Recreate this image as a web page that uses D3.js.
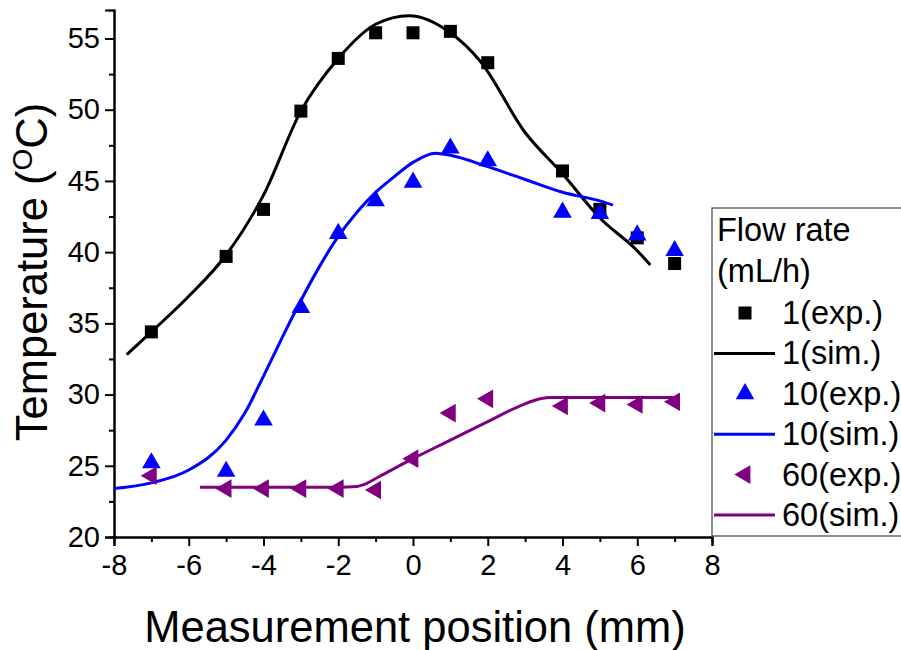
<!DOCTYPE html>
<html>
<head>
<meta charset="utf-8">
<script src="https://cdn.jsdelivr.net/npm/d3@7"></script>
<style>
  html, body { margin: 0; padding: 0; background: #fff; }
  svg { display: block; font-family: "Liberation Sans", Arial, sans-serif; }
</style>
</head>
<body>
<svg id="chart" width="901" height="650"></svg>
<script>
// ---- data ----
const expX = [-7, -5, -4, -3, -2, -1, 0, 1, 2, 4, 5, 6, 7];
const exp1 = [34.4, 39.7, 43.0, 49.9, 53.6, 55.4, 55.4, 55.5, 53.3, 45.7, 43.0, 41.0, 39.2];
const exp10 = [25.2, 24.6, 28.2, 36.1, 41.3, 43.6, 44.9, 47.3, 46.4, 42.8, 42.7, 41.2, 40.1];
const exp60X = [-7, -5, -4, -3, -2, -1, 0, 1, 2, 4, 5, 6, 7];
const exp60 = [24.3, 23.4, 23.4, 23.4, 23.4, 23.3, 25.5, 28.7, 29.7, 29.2, 29.4, 29.3, 29.5];

const sim1X = [-7.66, -7, -6, -5, -4, -3, -2, -1, -0.1, 1, 1.8, 3, 4, 5, 6, 6.35];
const sim1 = [32.8, 34.4, 36.9, 39.8, 44.0, 49.9, 53.6, 56.0, 56.6, 55.4, 53.4, 48.4, 45.5, 42.4, 40.1, 39.1];
const sim10X = [-8, -7, -6, -5, -4.5, -4, -3.5, -3, -2.5, -2, -1.5, -1, -0.5, 0, 0.6, 1, 2, 3, 4, 5, 5.35];
const sim10 = [23.4, 23.8, 24.7, 26.8, 28.7, 31.3, 34.0, 36.6, 39.0, 41.1, 42.8, 44.2, 45.3, 46.3, 46.95, 46.8, 46.0, 45.1, 44.2, 43.6, 43.3];
const sim60X = [-5.7, -2, -1.5, -1.3, -0.9, 0, 1, 2, 2.95, 3.4, 3.7, 7.05];
const sim60 = [23.5, 23.5, 23.55, 23.7, 24.25, 25.5, 26.8, 28.1, 29.3, 29.7, 29.8, 29.8];

const xTicks = [-8, -6, -4, -2, 0, 2, 4, 6, 8];
const xMinor = [-7, -5, -3, -1, 1, 3, 5, 7];
const yTicks = [20, 25, 30, 35, 40, 45, 50, 55];
const yMinor = [22.5, 27.5, 32.5, 37.5, 42.5, 47.5, 52.5];

const legendTitle = ["Flow rate", "(mL/h)"];
const legendLabels = ["1(exp.)", "1(sim.)", "10(exp.)", "10(sim.)", "60(exp.)", "60(sim.)"];
const legendKinds = ["square", "line", "triUp", "line", "triLeft", "line"];
const colors = ["#000000", "#000000", "#0000FF", "#0000FF", "#800080", "#800080"];

// ---- chart ----
const svg = d3.select("#chart");
const x = d3.scaleLinear().domain([-8, 8]).range([114, 712]);
const y = d3.scaleLinear().domain([20, 57]).range([537, 10]);

// axes
const fs = 29;
const gx = svg.append("g").attr("transform", "translate(0,537)")
  .call(d3.axisBottom(x).tickValues(xTicks).tickSize(9).tickPadding(8).tickFormat(d3.format("d")));
svg.append("g").attr("transform", "translate(0,537)")
  .call(d3.axisBottom(x).tickValues(xMinor).tickSize(5).tickFormat(""));
const gy = svg.append("g").attr("transform", "translate(114,0)")
  .call(d3.axisLeft(y).tickValues(yTicks).tickSize(9).tickPadding(5).tickFormat(d3.format("d")));
svg.append("g").attr("transform", "translate(114,0)")
  .call(d3.axisLeft(y).tickValues(yMinor).tickSize(5).tickFormat(""));

svg.selectAll(".domain").attr("stroke", "#000").attr("stroke-width", 2);
svg.selectAll(".tick line").attr("stroke", "#000").attr("stroke-width", 2);
svg.selectAll(".tick text").attr("font-size", fs).attr("fill", "#000")
  .attr("font-family", "Liberation Sans, Arial, sans-serif");
gx.selectAll(".tick text").text(d => d < 0 ? "-" + Math.abs(d) : d);

// titles
svg.append("text")
  .attr("x", 415).attr("y", 642)
  .attr("text-anchor", "middle").attr("font-size", 43.5)
  .text("Measurement position (mm)");
const yt = svg.append("text")
  .attr("transform", "translate(47,272) rotate(-90)")
  .attr("text-anchor", "middle").attr("font-size", 43.5);
yt.append("tspan").text("Temperature (");
yt.append("tspan").attr("font-size", 28).attr("dy", -15).text("O");
yt.append("tspan").attr("dy", 15).text("C)");

// symbols
const sqSize = 13;
const triUp = d3.symbol().type(d3.symbolTriangle).size(150);
function drawSquares(xs, ys, color) {
  svg.append("g").selectAll("rect").data(xs).join("rect")
    .attr("x", (d) => x(d) - sqSize / 2)
    .attr("y", (d, i) => y(ys[i]) - sqSize / 2)
    .attr("width", sqSize).attr("height", sqSize)
    .attr("fill", color);
}
function drawTri(xs, ys, color, rot) {
  svg.append("g").selectAll("path").data(xs).join("path")
    .attr("d", triUp)
    .attr("transform", (d, i) => `translate(${x(d)},${y(ys[i])}) rotate(${rot})`)
    .attr("fill", color);
}
const line = d3.line().curve(d3.curveMonotoneX);
function drawLine(xs, ys, color) {
  svg.append("path")
    .attr("d", line(xs.map((d, i) => [x(d), y(ys[i])])))
    .attr("fill", "none").attr("stroke", color).attr("stroke-width", 3);
}

drawSquares(expX, exp1, colors[0]);
drawLine(sim1X, sim1, colors[1]);
drawTri(expX, exp10, colors[2], 0);
drawLine(sim10X, sim10, colors[3]);
drawTri(exp60X, exp60, colors[4], -90);
drawLine(sim60X, sim60, colors[5]);

// legend
const lfs = 32.5;
const lg = svg.append("g");
lg.append("rect").attr("x", 712).attr("y", 208).attr("width", 200).attr("height", 328)
  .attr("fill", "#fff").attr("stroke", "#444").attr("stroke-width", 1.2);
legendTitle.forEach((t, i) => {
  lg.append("text").attr("x", 717).attr("y", 241 + i * 41).attr("font-size", lfs).text(t);
});
legendLabels.forEach((t, i) => {
  const base = 324 + i * 40.4;
  const cy = base - 11;
  lg.append("text").attr("x", 782).attr("y", base).attr("font-size", lfs).text(t);
  const k = legendKinds[i];
  if (k === "square") {
    lg.append("rect").attr("x", 745 - 6.5).attr("y", cy - 6.5).attr("width", 13).attr("height", 13).attr("fill", colors[i]);
  } else if (k === "line") {
    lg.append("line").attr("x1", 714).attr("x2", 775).attr("y1", cy).attr("y2", cy)
      .attr("stroke", colors[i]).attr("stroke-width", 3);
  } else {
    lg.append("path").attr("d", triUp)
      .attr("transform", `translate(745,${cy}) rotate(${k === "triLeft" ? -90 : 0})`)
      .attr("fill", colors[i]);
  }
});
</script>
</body>
</html>
